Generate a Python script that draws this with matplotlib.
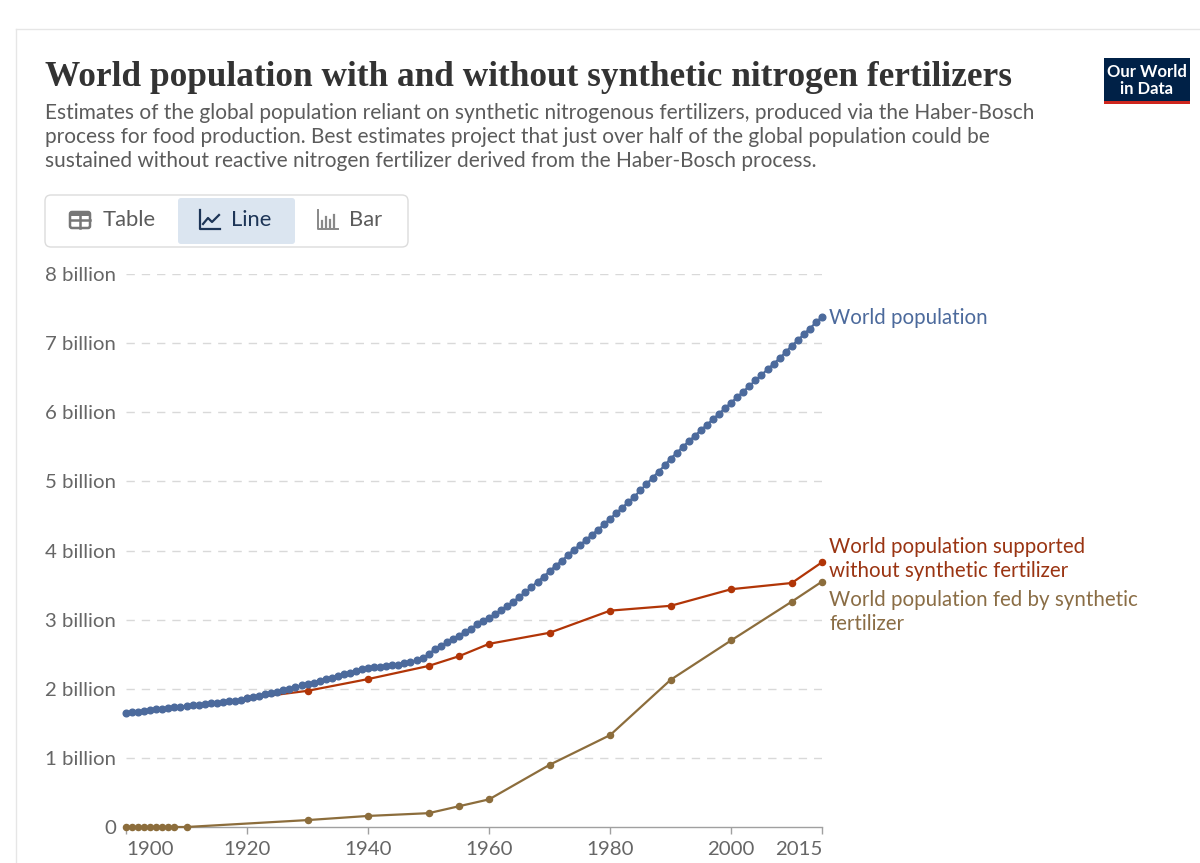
import matplotlib
matplotlib.use("Agg")
import matplotlib.pyplot as plt
from matplotlib.patches import FancyBboxPatch, Rectangle
import numpy as np

# ---------------- data (billions) ----------------
world_years = list(range(1900, 2016))
world_pop = [
    1.65, 1.66, 1.67, 1.68, 1.69, 1.70, 1.71, 1.72, 1.73, 1.74,   # 1900-1909
    1.75, 1.76, 1.77, 1.78, 1.79, 1.80, 1.81, 1.82, 1.83, 1.84,   # 1910-1919
    1.86, 1.88, 1.90, 1.92, 1.94, 1.96, 1.98, 2.00, 2.02, 2.05,   # 1920-1929
    2.07, 2.09, 2.11, 2.14, 2.16, 2.18, 2.21, 2.23, 2.26, 2.28,   # 1930-1939
    2.30, 2.31, 2.32, 2.33, 2.34, 2.35, 2.37, 2.39, 2.41, 2.44,   # 1940-1949
    2.50, 2.57, 2.62, 2.67, 2.72, 2.77, 2.82, 2.87, 2.93, 2.98,   # 1950-1959
    3.03, 3.08, 3.14, 3.20, 3.26, 3.33, 3.40, 3.47, 3.55, 3.62,   # 1960-1969
    3.70, 3.78, 3.85, 3.93, 4.01, 4.08, 4.15, 4.23, 4.30, 4.38,   # 1970-1979
    4.46, 4.54, 4.62, 4.70, 4.78, 4.87, 4.96, 5.05, 5.14, 5.23,   # 1980-1989
    5.33, 5.41, 5.50, 5.58, 5.66, 5.74, 5.82, 5.90, 5.98, 6.06,   # 1990-1999
    6.14, 6.22, 6.30, 6.38, 6.46, 6.54, 6.62, 6.70, 6.78, 6.87,   # 2000-2009
    6.96, 7.04, 7.13, 7.21, 7.30, 7.38,                           # 2010-2015
]

without_years = [1920, 1930, 1940, 1950, 1955, 1960, 1970, 1980, 1990, 2000, 2010, 2015]
without_pop = [1.86, 1.97, 2.14, 2.33, 2.47, 2.65, 2.81, 3.13, 3.20, 3.44, 3.53, 3.83]

fed_years = [1900, 1901, 1902, 1903, 1904, 1905, 1906, 1907, 1908, 1910,
             1930, 1940, 1950, 1955, 1960, 1970, 1980, 1990, 2000, 2010, 2015]
fed_pop = [0, 0, 0, 0, 0, 0, 0, 0, 0, 0,
           0.10, 0.16, 0.20, 0.30, 0.40, 0.90, 1.33, 2.13, 2.70, 3.26, 3.55]

x_ticks = [1900, 1920, 1940, 1960, 1980, 2000, 2015]
y_ticks = [0, 1, 2, 3, 4, 5, 6, 7, 8]
y_tick_labels = ["0", "1 billion", "2 billion", "3 billion", "4 billion",
                 "5 billion", "6 billion", "7 billion", "8 billion"]

series_labels = ["World population",
                 "World population supported\nwithout synthetic fertilizer",
                 "World population fed by synthetic\nfertilizer"]

title = "World population with and without synthetic nitrogen fertilizers"
subtitle = ["Estimates of the global population reliant on synthetic nitrogenous fertilizers, produced via the Haber-Bosch",
            "process for food production. Best estimates project that just over half of the global population could be",
            "sustained without reactive nitrogen fertilizer derived from the Haber-Bosch process."]

# ---------------- style ----------------
C_BLUE = "#4C6A9C"
C_RED = "#B13507"
C_BROWN = "#8C6D3C"
C_TEXT = "#5b5b5b"
C_AXIS = "#666666"
SANS = ["Lato", "DejaVu Sans"]

W, H = 1200, 863
fig = plt.figure(figsize=(W / 100, H / 100), dpi=100)
fig.patch.set_facecolor("white")

# background / pixel-coordinate axes
bg = fig.add_axes([0, 0, 1, 1])
bg.set_xlim(0, W)
bg.set_ylim(H, 0)
bg.axis("off")

renderer = fig.canvas.get_renderer()


def fit_text(ax, x, y, s, target_w, **kw):
    t = ax.text(x, y, s, **kw)
    for _ in range(3):
        w = t.get_window_extent(renderer=renderer).width
        t.set_fontsize(t.get_fontsize() * target_w / w)
    return t


# card frame
bg.plot([16, W], [29, 29], color="#e6e6e6", lw=1)
bg.plot([16, 16], [29, H], color="#e6e6e6", lw=1)

# title
fit_text(bg, 45, 77, title, 968, fontfamily=["Liberation Serif", "DejaVu Serif"],
         fontweight="bold", color="#333333", va="center", ha="left", fontsize=24)

# subtitle
st = fit_text(bg, 45, 113, subtitle[0], 988, fontfamily=SANS, color=C_TEXT,
              va="center", ha="left", fontsize=14)
fs_sub = st.get_fontsize()
for i, line in enumerate(subtitle[1:]):
    bg.text(45, 137 + 24 * i, line, fontfamily=SANS, color=C_TEXT,
            va="center", ha="left", fontsize=fs_sub)

# logo
bg.add_patch(Rectangle((1104, 58), 86, 46, facecolor="#002147", edgecolor="none"))
bg.add_patch(Rectangle((1104, 101), 86, 3.5, facecolor="#ce261e", edgecolor="none"))
bg.text(1147, 72, "Our World", color="white", fontfamily=SANS, fontweight="bold",
        fontsize=12, ha="center", va="center")
bg.text(1147, 89.5, "in Data", color="white", fontfamily=SANS, fontweight="bold",
        fontsize=12, ha="center", va="center")

# tab bar
bg.add_patch(FancyBboxPatch((45, 195), 363, 52, boxstyle="round,pad=0,rounding_size=6",
                            facecolor="white", edgecolor="#dcdcdc", lw=1))
bg.add_patch(FancyBboxPatch((178, 198), 117, 46, boxstyle="round,pad=0,rounding_size=3",
                            facecolor="#dbe5f0", edgecolor="none"))
bg.text(103, 220, "Table", fontfamily=SANS, fontsize=15.8, color=C_TEXT, va="center", ha="left")
bg.text(231, 220, "Line", fontfamily=SANS, fontsize=15.8, color="#1d3557", va="center", ha="left")
bg.text(349, 220, "Bar", fontfamily=SANS, fontsize=15.8, color=C_TEXT, va="center", ha="left")
# table icon
bg.add_patch(FancyBboxPatch((70, 212), 20, 16, boxstyle="round,pad=0,rounding_size=2",
                            facecolor="none", edgecolor="#777", lw=1.8))
bg.plot([70, 90], [220, 220], color="#777", lw=1.8)
bg.plot([80, 80], [215, 228], color="#777", lw=1.8)
bg.add_patch(Rectangle((70, 212), 20, 4, facecolor="#777", edgecolor="none"))
# line icon
bg.plot([200, 200, 220], [210, 229, 229], color="#1d3557", lw=1.6)
bg.plot([203, 208, 212, 219], [224, 218, 222, 215], color="#1d3557", lw=1.6)
# bar icon
bg.plot([318, 318, 338], [210, 229, 229], color="#888", lw=1.4)
for bx, bh in zip([322, 326, 330, 334], [6, 10, 7, 12]):
    bg.plot([bx, bx], [227, 227 - bh], color="#888", lw=1.6)

# ---------------- data axes ----------------
x0, x1 = 126, 822
y0, y1 = 827, 274
ax = fig.add_axes([x0 / W, (H - y0) / H, (x1 - x0) / W, (y0 - y1) / H])
ax.set_xlim(1900, 2015)
ax.set_ylim(0, 8)
ax.patch.set_alpha(0)
for s in ["top", "right", "left"]:
    ax.spines[s].set_visible(False)
ax.spines["bottom"].set_color("#a0a0a0")
ax.spines["bottom"].set_linewidth(1)

for yv in y_ticks[1:]:
    ax.axhline(yv, color="#d9d9d9", lw=1, ls=(0, (6, 5)), zorder=0)

ax.set_yticks(y_ticks)
ax.set_yticklabels(y_tick_labels)
ax.tick_params(axis="y", length=0, pad=7, labelsize=14.7, labelcolor=C_AXIS)
ax.set_xticks(x_ticks)
ax.set_xticklabels([str(v) for v in x_ticks])
ax.tick_params(axis="x", length=5, width=1, color="#a0a0a0", pad=5,
               labelsize=14.7, labelcolor=C_AXIS)
for lab in ax.get_yticklabels() + ax.get_xticklabels():
    lab.set_fontfamily(SANS)
xl = ax.get_xticklabels()
xl[0].set_ha("left")
xl[-1].set_ha("right")

ax.plot(fed_years, fed_pop, color=C_BROWN, lw=1.6, marker="o", ms=4.4,
        clip_on=False, zorder=3)
ax.plot(without_years, without_pop, color=C_RED, lw=1.6, marker="o", ms=4.4,
        clip_on=False, zorder=4)
ax.plot(world_years, world_pop, color=C_BLUE, lw=1.6, marker="o", ms=4.8,
        clip_on=False, zorder=5)

# line end labels (pixel positions in the page)
LFS = 14.8
bg.text(829, 318, series_labels[0], fontfamily=SANS, fontsize=LFS, color=C_BLUE,
        va="center", ha="left")
bg.text(829, 559, series_labels[1], fontfamily=SANS, fontsize=LFS, color="#9a3412",
        va="center", ha="left", linespacing=1.2)
bg.text(829, 612, series_labels[2], fontfamily=SANS, fontsize=LFS, color="#8a6d45",
        va="center", ha="left", linespacing=1.2)

fig.savefig("out.png", dpi=100, facecolor="white")
